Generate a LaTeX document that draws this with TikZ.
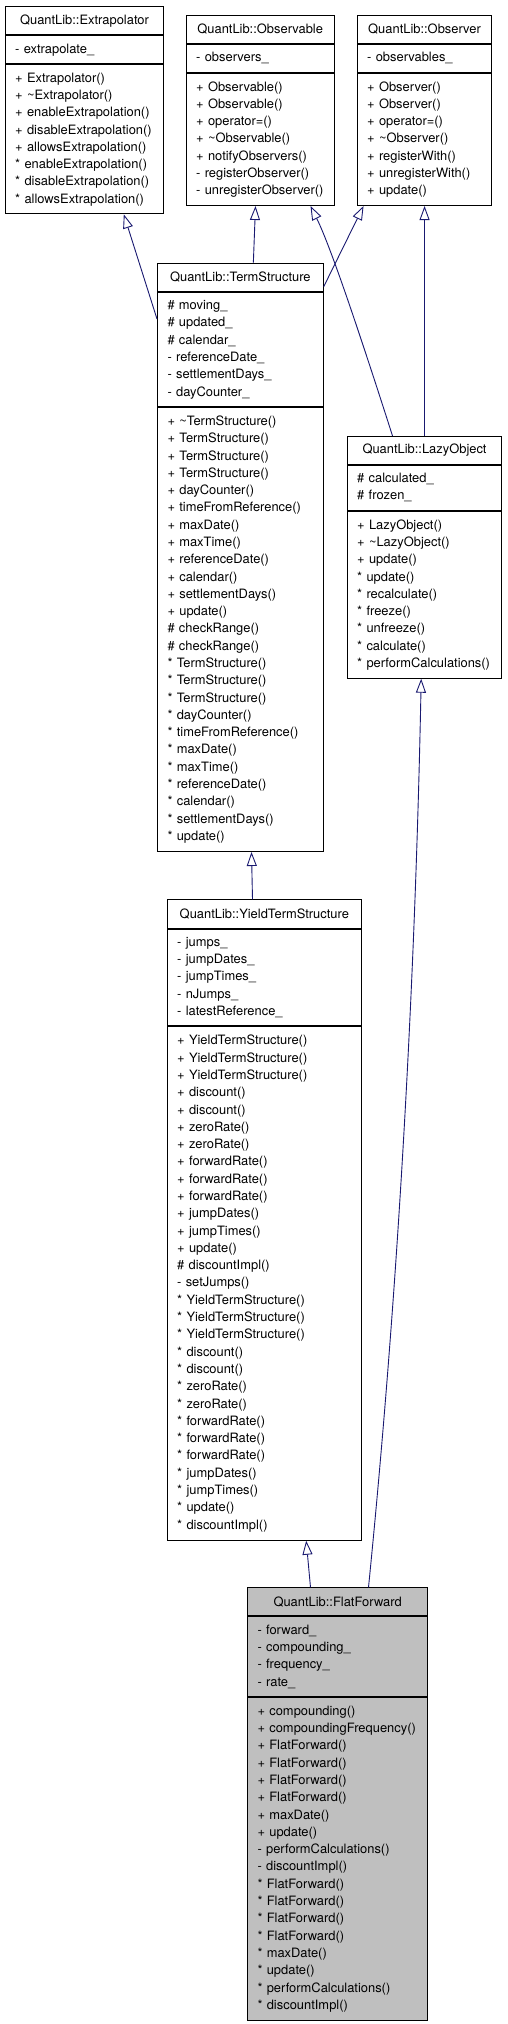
\documentclass[tikz,border=0pt]{standalone}
\usepackage{fontspec}
\setmainfont{TeX Gyre Heros}
\usetikzlibrary{arrows.meta, positioning}
\definecolor{edgeblue}{RGB}{25,25,112}
\definecolor{leafgrey}{RGB}{191,191,191}
\tikzset{
  classname/.style={draw, line width=1pt, anchor=north west, align=center,
                    inner sep=0pt, minimum height=28pt},
  members/.style={draw, line width=1pt, align=left, inner xsep=10pt,
                  inner ysep=0pt, execute at begin node=\strut,
                  execute at end node=\strut},
  inherit/.style={draw=edgeblue, line width=0.9pt,
                  -{Triangle[open, length=14pt, width=10pt]}},
}

\begin{document}
\begin{tikzpicture}[x=1pt, y=-1pt, font={\fontsize{12.9}{17.29}\selectfont}]
  \useasboundingbox (0,0) rectangle (507,2024);

  % base classes
  \node[classname, text width=158.6pt] (extrap) at (4.7,6.3) {QuantLib::Extrapolator};
  \node[members, text width=138.6pt, minimum height=28pt, below=0pt of extrap] (extrapA)
    {- extrapolate\_};
  \node[members, text width=138.6pt, minimum height=149pt, below=0pt of extrapA] (extrapM)
    {+ Extrapolator()\\+ \textasciitilde Extrapolator()\\+ enableExtrapolation()\\
     + disableExtrapolation()\\+ allowsExtrapolation()\\{}* enableExtrapolation()\\
     {}* disableExtrapolation()\\{}* allowsExtrapolation()};

  \node[classname, text width=148pt] (obs) at (185.7,15) {QuantLib::Observable};
  \node[members, text width=128pt, minimum height=28pt, below=0pt of obs] (obsA)
    {- observers\_};
  \node[members, text width=128pt, minimum height=132pt, below=0pt of obsA] (obsM)
    {+ Observable()\\+ Observable()\\+ operator=()\\+ \textasciitilde Observable()\\
     + notifyObservers()\\- registerObserver()\\- unregisterObserver()};

  \node[classname, text width=134.7pt] (obsr) at (356.7,15) {QuantLib::Observer};
  \node[members, text width=114.7pt, minimum height=28pt, below=0pt of obsr] (obsrA)
    {- observables\_};
  \node[members, text width=114.7pt, minimum height=132pt, below=0pt of obsrA] (obsrM)
    {+ Observer()\\+ Observer()\\+ operator=()\\+ \textasciitilde Observer()\\
     + registerWith()\\+ unregisterWith()\\+ update()};

  % TermStructure
  \node[classname, text width=165.7pt] (ts) at (157,262.7) {QuantLib::TermStructure};
  \node[members, text width=145.7pt, minimum height=114.3pt, below=0pt of ts] (tsA)
    {\# moving\_\\\# updated\_\\\# calendar\_\\- referenceDate\_\\- settlementDays\_\\
     - dayCounter\_};
  \node[members, text width=145.7pt, minimum height=444pt, below=0pt of tsA] (tsM)
    {+ \textasciitilde TermStructure()\\+ TermStructure()\\+ TermStructure()\\
     + TermStructure()\\+ dayCounter()\\+ timeFromReference()\\+ maxDate()\\
     + maxTime()\\+ referenceDate()\\+ calendar()\\+ settlementDays()\\+ update()\\
     \# checkRange()\\\# checkRange()\\{}* TermStructure()\\{}* TermStructure()\\
     {}* TermStructure()\\{}* dayCounter()\\{}* timeFromReference()\\{}* maxDate()\\
     {}* maxTime()\\{}* referenceDate()\\{}* calendar()\\{}* settlementDays()\\{}* update()};

  % LazyObject
  \node[classname, text width=154.7pt, minimum height=27.7pt] (lazy) at (346.7,436) {QuantLib::LazyObject};
  \node[members, text width=134.7pt, minimum height=45.3pt, below=0pt of lazy] (lazyA)
    {\# calculated\_\\\# frozen\_};
  \node[members, text width=134.7pt, minimum height=166.7pt, below=0pt of lazyA] (lazyM)
    {+ LazyObject()\\+ \textasciitilde LazyObject()\\+ update()\\{}* update()\\
     {}* recalculate()\\{}* freeze()\\{}* unfreeze()\\{}* calculate()\\{}* performCalculations()};

  % YieldTermStructure
  \node[classname, text width=194.3pt, minimum height=28.4pt] (yts) at (166.7,899.3) {QuantLib::YieldTermStructure};
  \node[members, text width=174.3pt, minimum height=96.6pt, below=0pt of yts] (ytsA)
    {- jumps\_\\- jumpDates\_\\- jumpTimes\_\\- nJumps\_\\- latestReference\_};
  \node[members, text width=174.3pt, minimum height=513.4pt, below=0pt of ytsA] (ytsM)
    {+ YieldTermStructure()\\+ YieldTermStructure()\\+ YieldTermStructure()\\
     + discount()\\+ discount()\\+ zeroRate()\\+ zeroRate()\\+ forwardRate()\\
     + forwardRate()\\+ forwardRate()\\+ jumpDates()\\+ jumpTimes()\\+ update()\\
     \# discountImpl()\\- setJumps()\\{}* YieldTermStructure()\\{}* YieldTermStructure()\\
     {}* YieldTermStructure()\\{}* discount()\\{}* discount()\\{}* zeroRate()\\{}* zeroRate()\\
     {}* forwardRate()\\{}* forwardRate()\\{}* forwardRate()\\{}* jumpDates()\\{}* jumpTimes()\\
     {}* update()\\{}* discountImpl()};

  % FlatForward
  \node[classname, fill=leafgrey, text width=180.3pt] (flat) at (247,1587.3) {QuantLib::FlatForward};
  \node[members, fill=leafgrey, text width=160.3pt, minimum height=79.7pt, below=0pt of flat] (flatA)
    {- forward\_\\- compounding\_\\- frequency\_\\- rate\_};
  \node[members, fill=leafgrey, text width=160.3pt, minimum height=322.7pt, below=0pt of flatA] (flatM)
    {+ compounding()\\+ compoundingFrequency()\\+ FlatForward()\\+ FlatForward()\\
     + FlatForward()\\+ FlatForward()\\+ maxDate()\\+ update()\\
     - performCalculations()\\- discountImpl()\\{}* FlatForward()\\{}* FlatForward()\\
     {}* FlatForward()\\{}* FlatForward()\\{}* maxDate()\\{}* update()\\
     {}* performCalculations()\\{}* discountImpl()};

  % inheritance
  \draw[inherit] ([yshift=-27.3pt]tsA.north west) -- ([xshift=39.3pt]extrapM.south);
  \draw[inherit] ([xshift=13pt]ts.north) -- ([xshift=-4.7pt]obsM.south);
  \draw[inherit] ([yshift=-24pt]ts.north east) -- ([xshift=-61pt]obsrM.south);
  \draw[inherit] ([xshift=-32pt]lazy.north) .. controls +(-32,-100) and +(20,40) .. ([xshift=50.3pt]obsM.south);
  \draw[inherit] (lazy.north) -- (obsrM.south);
  \draw[inherit] ([xshift=-11.85pt]yts.north) -- ([xshift=11.15pt]tsM.south);
  \draw[inherit] ([xshift=-27.15pt]flat.north) -- ([xshift=41.85pt]ytsM.south);
  \draw[inherit] ([xshift=30.85pt]flat.north) .. controls +(30,-300) and +(-6,300) .. ([xshift=-3.35pt]lazyM.south);
\end{tikzpicture}
\end{document}
